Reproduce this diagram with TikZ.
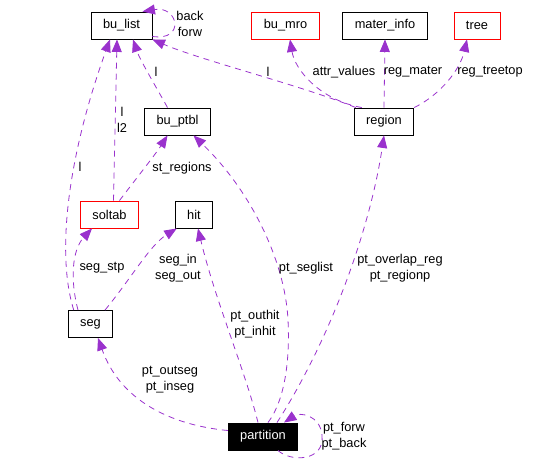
\documentclass[tikz,border=0pt]{standalone}
\usepackage{fontspec}
\setmainfont{Liberation Sans}
\definecolor{edgePurple}{HTML}{9A32CD}
\definecolor{clsRed}{HTML}{FF0000}
\usetikzlibrary{arrows.meta}

\begin{document}
\begin{tikzpicture}[
  x=1pt, y=-1pt,
  font=\fontsize{12.8}{16}\selectfont,
  cls/.style={draw=black, line width=0.9pt, fill=white, minimum height=27pt,
    inner xsep=12pt, inner ysep=0pt},
  clsred/.style={cls, draw=clsRed},
  clsroot/.style={cls, fill=black, text=white},
  edge/.style={edgePurple, line width=0.8pt, dash pattern=on 6pt off 5pt,
    -{Triangle[length=12.5pt,width=10pt]}},
  lbl/.style={align=center, inner sep=1pt}]

  \useasboundingbox (0,0) rectangle (549,468);

  % classes
  \node[cls] (bulist) at (121.5,25.5) {bu\_list};
  \node[clsred] (bumro) at (285.5,25.5) {bu\_mro};
  \node[cls] (materinfo) at (385,25.5) {mater\_info};
  \node[clsred] (tree) at (477,25.5) {tree};
  \node[cls] (buptbl) at (177.5,121.5) {bu\_ptbl};
  \node[cls] (region) at (384,121.5) {region};
  \node[clsred] (soltab) at (109.5,214.5) {soltab};
  \node[cls] (hit) at (194,214.5) {hit};
  \node[cls] (seg) at (90.5,324) {seg};
  \node[clsroot] (partition) at (263,436.5) {partition};

  % top row
  \draw[edge] ([yshift=3pt]bulist.south east) .. controls +(33,5) and +(36,-6) .. ([xshift=-10pt]bulist.north east);
  \draw[edge] ([xshift=2pt]region.north west) .. controls (300,85) and (200,60) .. (bulist.south east);
  \draw[edge] ([xshift=8pt]region.north west) .. controls (320,100) and (295,70) .. ([xshift=4.5pt]bumro.south);
  \draw[edge] (region.north) -- (materinfo.south);
  \draw[edge] (region.north east) .. controls (440,95) and (460,70) .. ([xshift=-10pt]tree.south);
  \draw[edge] ([xshift=-10pt]buptbl.north) .. controls (155,85) and (140,60) .. ([xshift=11.5pt]bulist.south);
  \draw[edge] ([xshift=4pt]soltab.north) -- ([xshift=-4.5pt]bulist.south);
  \draw[edge] ([xshift=6pt]seg.north west) .. controls (55,250) and (70,150) .. ([xshift=-11.5pt]bulist.south);
  \draw[edge] ([xshift=10pt]soltab.north) .. controls (135,180) and (155,155) .. ([xshift=-10pt]buptbl.south);

  % seg and partition
  \draw[edge] ([xshift=-12.5pt]seg.north) .. controls (70,280) and (72,250) .. ([xshift=-17.5pt]soltab.south);
  \draw[edge] ([xshift=14.5pt]seg.north) .. controls (130,280) and (150,245) .. ([xshift=2pt]hit.south west);
  \draw[edge] ([xshift=5pt]partition.north) .. controls (285,400) and (290,360) .. (288,320)
    .. controls (285,260) and (250,190) .. ([xshift=16pt]buptbl.south);
  \draw[edge] ([xshift=14pt]partition.north) .. controls (330,340) and (370,230) .. (region.south);
  \draw[edge] ([xshift=-5pt]partition.north) .. controls (245,370) and (215,300) .. ([xshift=4pt]hit.south);
  \draw[edge] ([yshift=6pt]partition.west) .. controls (170,425) and (120,400) .. ([xshift=7.5pt]seg.south);
  \draw[edge] ([xshift=15pt]partition.south) .. controls (290,462) and (325,462) .. (322,435)
    .. controls (320,415) and (300,412) .. ([xshift=21pt]partition.north);

  % labels
  \node[lbl] (lBackForw) at (190,24) {back\\forw};
  \node[lbl] (lRegL) at (268,72) {l};
  \node[lbl] (lAttr) at (344,72) {attr\_values};
  \node[lbl] (lMater) at (413,72) {reg\_mater};
  \node[lbl] (lTreetop) at (490,72) {reg\_treetop};
  \node[lbl] (lPtblL) at (156,72) {l};
  \node[lbl] (lSoltabL) at (122,120) {l\\l2};
  \node[lbl] (lSegL) at (80,167) {l};
  \node[lbl] (lStRegions) at (182,168) {st\_regions};
  \node[lbl] (lSegStp) at (102,268) {seg\_stp};
  \node[lbl] (lSegIn) at (178,268) {seg\_in\\seg\_out};
  \node[lbl] (lSeglist) at (306,268) {pt\_seglist};
  \node[lbl] (lOverlap) at (400,268) {pt\_overlap\_reg\\pt\_regionp};
  \node[lbl] (lOuthit) at (255,324) {pt\_outhit\\pt\_inhit};
  \node[lbl] (lOutseg) at (170,380) {pt\_outseg\\pt\_inseg};
  \node[lbl] (lForw) at (344,436) {pt\_forw\\pt\_back};
\end{tikzpicture}
\end{document}
